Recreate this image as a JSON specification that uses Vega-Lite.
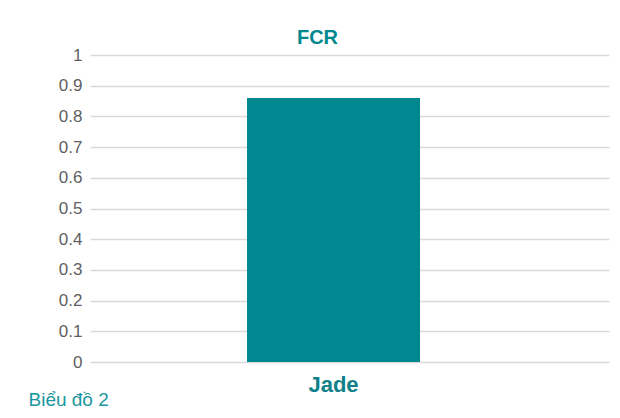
{
  "$schema": "https://vega.github.io/schema/vega-lite/v6.json",
  "width": 519,
  "height": 307,
  "autosize": {"type": "none"},
  "padding": {"left": 90, "top": 55, "right": 11, "bottom": 56},
  "background": "white",
  "title": {
    "text": "FCR",
    "font": "Liberation Sans",
    "fontSize": 20,
    "fontWeight": "bold",
    "color": "#00888f",
    "offset": -2,
    "dx": -32
  },
  "data": {"values": [{"category": "Jade", "FCR": 0.86}]},
  "mark": {"type": "bar", "color": "#008891"},
  "encoding": {
    "x": {
      "field": "category",
      "type": "nominal",
      "scale": {"paddingInner": 0, "paddingOuter": 1, "align": 0.4538},
      "axis": {
        "title": "Biểu đồ 2",
        "titleFont": "Liberation Sans",
        "titleFontSize": 19,
        "titleFontWeight": "normal",
        "titleColor": "#1a97a0",
        "titleX": -62,
        "titleY": 43,
        "titleAlign": "left",
        "titleBaseline": "alphabetic",
        "titleAnchor": "start",
        "labelFont": "Liberation Sans",
        "labelFontSize": 22,
        "labelFontWeight": "bold",
        "labelColor": "#0f7f89",
        "labelBaseline": "alphabetic",
        "labelPadding": 29,
        "labelAngle": 0,
        "domain": false,
        "ticks": false
      }
    },
    "y": {
      "field": "FCR",
      "type": "quantitative",
      "scale": {"domain": [0, 1], "nice": false},
      "axis": {
        "title": null,
        "values": [0, 0.1, 0.2, 0.3, 0.4, 0.5, 0.6, 0.7, 0.8, 0.9, 1],
        "format": "~g",
        "labelFont": "Liberation Sans",
        "labelFontSize": 17,
        "labelColor": "#5f5f5f",
        "labelPadding": 8,
        "domain": false,
        "ticks": false,
        "grid": true,
        "gridColor": "#d9d9d9",
        "gridWidth": 1.5
      }
    }
  },
  "config": {"view": {"stroke": null}}
}
